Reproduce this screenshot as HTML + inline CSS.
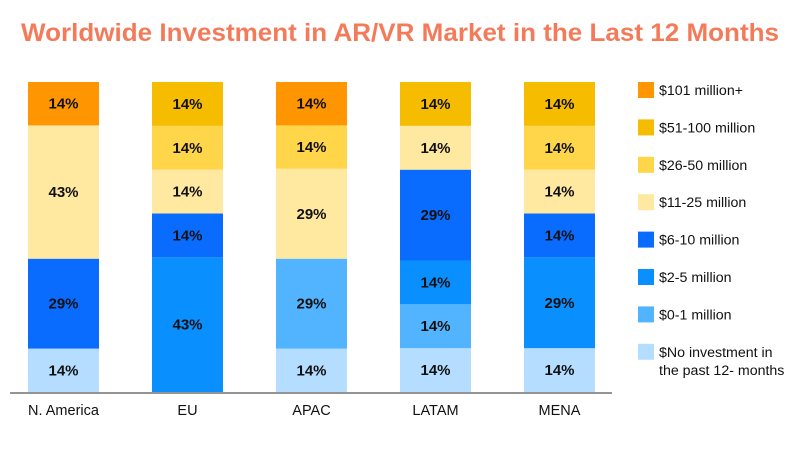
<!DOCTYPE html>
<html><head><meta charset="utf-8"><style>
body{margin:0;background:#fff;width:800px;height:452px;overflow:hidden;font-family:"Liberation Sans",sans-serif}
</style></head><body>
<svg width="800" height="452" xmlns="http://www.w3.org/2000/svg">
<text x="400" y="41" text-anchor="middle" font-size="25" font-weight="bold" fill="#f47b5a" textLength="758" lengthAdjust="spacingAndGlyphs">Worldwide Investment in AR/VR Market in the Last 12 Months</text>
<g id="bars"></g>
<line x1="10" y1="393" x2="612" y2="393" stroke="#555" stroke-width="1.2"/>
<g id="legend"></g>
</svg>
<script>
const regions=["N. America","EU","APAC","LATAM","MENA"];
const seriesNames=["$No investment in the past 12- months","$0-1 million","$2-5 million","$6-10 million","$11-25 million","$26-50 million","$51-100 million","$101 million+"];
const noInvestment=[14,0,14,14,14];
const m0to1=[0,0,29,14,0];
const m2to5=[0,43,0,14,29];
const m6to10=[29,14,0,29,14];
const m11to25=[43,14,29,14,14];
const m26to50=[0,14,14,0,14];
const m51to100=[0,14,0,14,14];
const m101plus=[14,0,14,0,0];
const series=[noInvestment,m0to1,m2to5,m6to10,m11to25,m26to50,m51to100,m101plus];
const colors=["#b5ddff","#52b4ff","#0a8fff","#0a6cff","#ffe8a0","#ffd54a","#f5bc00","#ff9500"];
const NS="http://www.w3.org/2000/svg";
const plotTop=82,plotBottom=392,barW=71;
const xPos=i=>28+i*124;
const yScale=f=>plotBottom-f*(plotBottom-plotTop);
const bars=document.getElementById('bars');
regions.forEach((r,i)=>{
  let total=0;series.forEach(s=>total+=s[i]);
  let cum=0;
  series.forEach((s,k)=>{
    const v=s[i];if(!v)return;
    const y0=yScale(cum/total),y1=yScale((cum+v)/total);cum+=v;
    const rect=document.createElementNS(NS,'rect');
    
    
    rect.setAttribute('x',xPos(i));rect.setAttribute('y',y1);
    rect.setAttribute('width',barW);rect.setAttribute('height',y0-y1);
    rect.setAttribute('fill',colors[k]);bars.appendChild(rect);
    const t=document.createElementNS(NS,'text');
    
    
    t.setAttribute('x',xPos(i)+barW/2);t.setAttribute('y',(y0+y1)/2+5);
    t.setAttribute('text-anchor','middle');t.setAttribute('font-size','15');
    t.setAttribute('font-weight','bold');t.setAttribute('fill','#111');
    t.textContent=v+'%';bars.appendChild(t);
  });
  const lab=document.createElementNS(NS,'text');
  
  
  lab.setAttribute('x',xPos(i)+barW/2);lab.setAttribute('y',415);
  lab.setAttribute('text-anchor','middle');lab.setAttribute('font-size','14.5');
  lab.setAttribute('fill','#111');lab.textContent=r;bars.appendChild(lab);
});
const legend=document.getElementById('legend');
const order=[7,6,5,4,3,2,1,0];
order.forEach((k,j)=>{
  const cy=90+j*37.4;
  const g=document.createElementNS(NS,'g');
  
  
  const r=document.createElementNS(NS,'rect');
  r.setAttribute('x',638);r.setAttribute('y',cy-8);r.setAttribute('width',16);r.setAttribute('height',16);
  r.setAttribute('fill',colors[k]);g.appendChild(r);
  const words=seriesNames[k];
  if(k===0){
    ['$No investment in','the past 12- months'].forEach((ln,q)=>{
      const t=document.createElementNS(NS,'text');
      t.setAttribute('x',659);t.setAttribute('y',cy+5+q*18);t.setAttribute('font-size','14.2');t.setAttribute('fill','#111');
      t.textContent=ln;g.appendChild(t);
    });
  } else {
    const t=document.createElementNS(NS,'text');
    t.setAttribute('x',659);t.setAttribute('y',cy+5);t.setAttribute('font-size','14.2');t.setAttribute('fill','#111');
    t.textContent=words;g.appendChild(t);
  }
  legend.appendChild(g);
});
</script>
</body></html>
